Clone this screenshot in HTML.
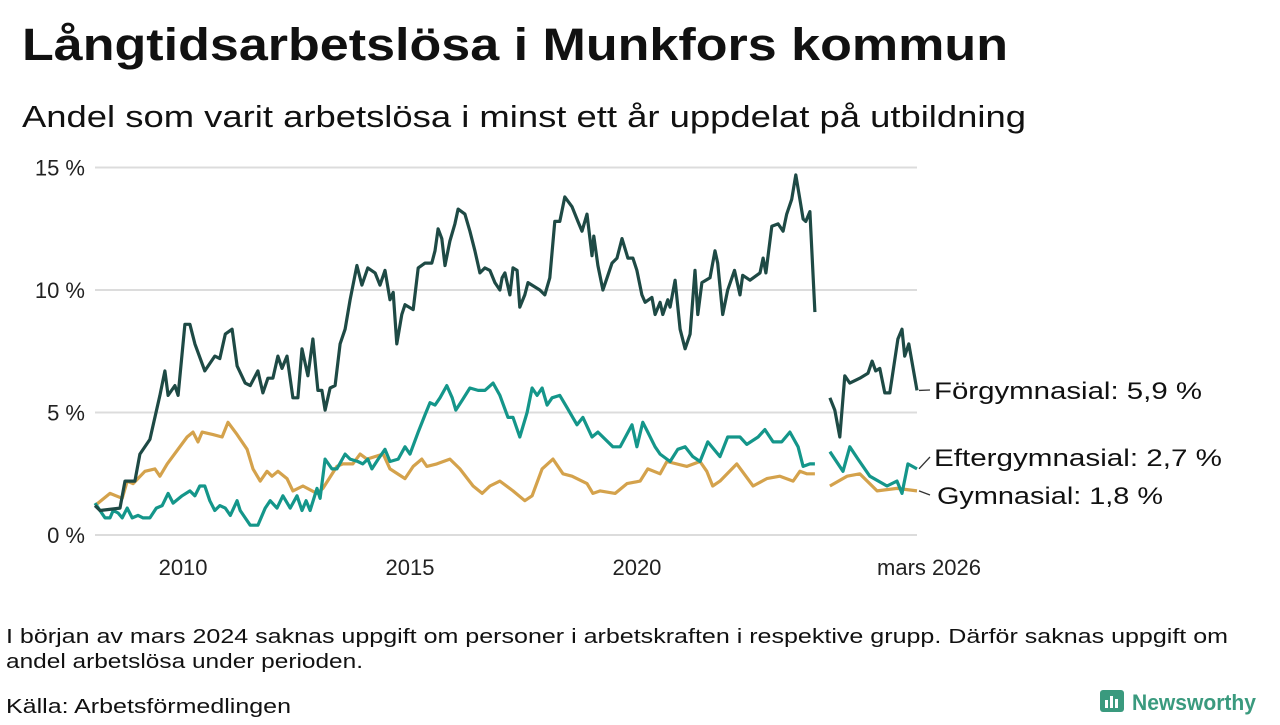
<!DOCTYPE html>
<html lang="sv"><head><meta charset="utf-8">
<style>
html,body{margin:0;padding:0;background:#fff;}
body{width:1280px;height:720px;overflow:hidden;font-family:"Liberation Sans","DejaVu Sans",sans-serif;}
svg text{font-family:"Liberation Sans","DejaVu Sans",sans-serif;}
</style></head>
<body>
<svg id="chart" width="1280" height="720" viewBox="0 0 1280 720" xmlns="http://www.w3.org/2000/svg">
<text x="22" y="60" font-size="45" font-weight="bold" fill="#111" textLength="986" lengthAdjust="spacingAndGlyphs">Långtidsarbetslösa i Munkfors kommun</text>
<text x="22" y="127" font-size="31" fill="#111" textLength="1004" lengthAdjust="spacingAndGlyphs">Andel som varit arbetslösa i minst ett år uppdelat på utbildning</text>
<g id="grid"></g>
<g id="series"></g>
<g id="labels"></g>
<text x="6" y="643" font-size="20" fill="#111" textLength="1222" lengthAdjust="spacingAndGlyphs">I början av mars 2024 saknas uppgift om personer i arbetskraften i respektive grupp. Därför saknas uppgift om</text>
<text x="6" y="668" font-size="20" fill="#111" textLength="357" lengthAdjust="spacingAndGlyphs">andel arbetslösa under perioden.</text>
<text x="6" y="713" font-size="20" fill="#111" textLength="285" lengthAdjust="spacingAndGlyphs">Källa: Arbetsförmedlingen</text>
<g>
<rect x="1100" y="690" width="24" height="22" rx="3" fill="#3a9a7e"/>
<rect x="1105" y="700" width="3" height="8" fill="#fff"/><rect x="1110" y="696" width="3" height="12" fill="#fff"/><rect x="1115" y="699" width="3" height="9" fill="#fff"/>
<text x="1132" y="710" font-size="22" font-weight="bold" fill="#3a9a7e" textLength="124" lengthAdjust="spacingAndGlyphs">Newsworthy</text>
</g>
</svg>
<script>
const yTicks=[0,5,10,15];
const yTickLabels=["0 %","5 %","10 %","15 %"];
const xTicks=[2010,2015,2020,2026.17];
const xTickLabels=["2010","2015","2020","mars 2026"];
const forgDates=[2008.06,2008.17,2008.61,2008.72,2008.94,2009.05,2009.27,2009.49,2009.60,2009.67,2009.82,2009.89,2010.04,2010.15,2010.26,2010.48,2010.70,2010.81,2010.93,2011.08,2011.19,2011.37,2011.48,2011.65,2011.76,2011.87,2011.98,2012.09,2012.18,2012.29,2012.42,2012.53,2012.62,2012.75,2012.86,2012.97,2013.06,2013.13,2013.24,2013.35,2013.46,2013.57,2013.68,2013.83,2013.94,2014.07,2014.23,2014.34,2014.45,2014.56,2014.63,2014.71,2014.82,2014.89,2015.07,2015.18,2015.33,2015.48,2015.55,2015.62,2015.70,2015.77,2015.88,2015.99,2016.06,2016.21,2016.32,2016.43,2016.54,2016.65,2016.76,2016.87,2016.98,2017.03,2017.09,2017.20,2017.27,2017.36,2017.42,2017.53,2017.60,2017.86,2017.97,2018.08,2018.19,2018.30,2018.41,2018.57,2018.70,2018.79,2018.90,2019.01,2019.05,2019.14,2019.25,2019.36,2019.45,2019.56,2019.67,2019.80,2019.91,2020.00,2020.11,2020.18,2020.33,2020.40,2020.51,2020.57,2020.68,2020.73,2020.84,2020.95,2021.06,2021.17,2021.28,2021.34,2021.43,2021.61,2021.72,2021.78,2021.89,2022.00,2022.15,2022.27,2022.33,2022.49,2022.71,2022.78,2022.84,2022.97,2023.11,2023.22,2023.30,2023.41,2023.50,2023.59,2023.66,2023.72,2023.81,2023.92,null,2024.25,2024.36,2024.47,2024.58,2024.69,2024.91,2025.09,2025.18,2025.26,2025.35,2025.46,2025.57,2025.75,2025.84,2025.90,2025.99,2026.17];
const forgValues=[1.2,1.0,1.1,2.2,2.2,3.3,3.9,5.7,6.7,5.7,6.1,5.7,8.6,8.6,7.8,6.7,7.3,7.2,8.2,8.4,6.9,6.2,6.1,6.7,5.8,6.4,6.4,7.3,6.8,7.3,5.6,5.6,7.6,6.5,8.0,5.9,5.9,5.1,6.0,6.1,7.8,8.4,9.6,11.0,10.2,10.9,10.7,10.2,10.8,9.6,9.9,7.8,9.0,9.4,9.2,10.9,11.1,11.1,11.6,12.5,12.1,11.0,12.0,12.7,13.3,13.1,12.4,11.6,10.7,10.9,10.8,10.3,10.0,10.5,10.7,9.8,10.9,10.8,9.3,9.8,10.3,10.0,9.8,10.5,12.8,12.8,13.8,13.4,12.8,12.4,13.1,11.4,12.2,11.0,10.0,10.6,11.1,11.3,12.1,11.3,11.3,10.8,9.8,9.5,9.7,9.0,9.5,9.0,9.6,9.3,10.4,8.4,7.6,8.2,10.8,9.0,10.3,10.5,11.6,11.1,9.0,10.0,10.8,9.8,10.6,10.4,10.7,11.3,10.7,12.6,12.7,12.4,13.1,13.7,14.7,13.7,12.9,12.8,13.2,9.1,null,5.6,5.1,4.0,6.5,6.2,6.4,6.6,7.1,6.7,6.8,5.8,5.8,8.0,8.4,7.3,7.8,5.9];
const eftDates=[2008.06,2008.17,2008.28,2008.39,2008.46,2008.57,2008.66,2008.77,2008.88,2009.01,2009.12,2009.27,2009.41,2009.54,2009.67,2009.78,2009.98,2010.15,2010.26,2010.37,2010.48,2010.59,2010.70,2010.81,2010.93,2011.04,2011.19,2011.26,2011.37,2011.48,2011.65,2011.81,2011.92,2012.07,2012.20,2012.36,2012.51,2012.62,2012.71,2012.80,2012.95,2013.02,2013.13,2013.28,2013.39,2013.57,2013.68,2013.85,2013.96,2014.07,2014.16,2014.30,2014.45,2014.56,2014.74,2014.89,2015.00,2015.18,2015.33,2015.44,2015.55,2015.66,2015.81,2015.93,2016.01,2016.15,2016.32,2016.50,2016.65,2016.83,2016.98,2017.16,2017.27,2017.42,2017.58,2017.69,2017.80,2017.91,2018.02,2018.13,2018.30,2018.46,2018.68,2018.81,2019.01,2019.14,2019.47,2019.63,2019.89,2020.00,2020.13,2020.24,2020.40,2020.51,2020.73,2020.90,2021.06,2021.23,2021.39,2021.56,2021.83,2022.00,2022.27,2022.42,2022.67,2022.82,2023.00,2023.19,2023.37,2023.55,2023.66,2023.81,2023.92,null,2024.25,2024.54,2024.69,2024.87,2025.13,2025.51,2025.73,2025.84,2025.97,2026.17];
const eftValues=[1.3,1.0,0.7,0.7,1.0,0.9,0.7,1.1,0.7,0.8,0.7,0.7,1.1,1.2,1.7,1.3,1.6,1.8,1.6,2.0,2.0,1.4,1.0,1.2,1.1,0.8,1.4,1.0,0.7,0.4,0.4,1.1,1.4,1.1,1.6,1.1,1.6,1.0,1.4,1.0,1.9,1.5,3.1,2.7,2.7,3.3,3.1,3.0,2.9,3.1,2.7,3.1,3.5,3.0,3.1,3.6,3.3,4.2,4.9,5.4,5.3,5.6,6.1,5.6,5.1,5.5,6.0,5.9,5.9,6.2,5.7,4.8,4.8,4.0,5.0,6.0,5.7,6.0,5.3,5.6,5.7,5.2,4.5,4.8,4.0,4.2,3.6,3.6,4.5,3.6,4.6,4.2,3.6,3.3,3.0,3.5,3.6,3.2,3.0,3.8,3.2,4.0,4.0,3.7,4.0,4.3,3.8,3.8,4.2,3.6,2.8,2.9,2.9,null,3.4,2.6,3.6,3.1,2.4,2.0,2.2,1.7,2.9,2.7];
const gymDates=[2008.06,2008.39,2008.66,2008.77,2008.90,2009.16,2009.38,2009.49,2009.65,2010.09,2010.22,2010.33,2010.42,2010.66,2010.86,2010.99,2011.19,2011.41,2011.54,2011.70,2011.85,2011.96,2012.09,2012.29,2012.42,2012.64,2012.95,2013.08,2013.39,2013.52,2013.74,2013.90,2014.05,2014.41,2014.56,2014.89,2015.07,2015.26,2015.37,2015.59,2015.88,2016.10,2016.39,2016.59,2016.76,2016.98,2017.27,2017.53,2017.69,2017.91,2018.15,2018.37,2018.57,2018.90,2019.03,2019.19,2019.52,2019.78,2020.07,2020.24,2020.51,2020.66,2021.10,2021.39,2021.54,2021.67,2021.83,2022.20,2022.56,2022.86,2023.15,2023.44,2023.59,2023.74,2023.92,null,2024.25,2024.63,2024.91,2025.29,2025.73,2026.17];
const gymValues=[1.2,1.7,1.5,2.2,2.1,2.6,2.7,2.4,2.9,4.0,4.2,3.8,4.2,4.1,4.0,4.6,4.1,3.5,2.7,2.2,2.6,2.4,2.6,2.3,1.8,2.0,1.7,1.9,2.8,2.9,2.9,3.3,3.1,3.3,2.7,2.3,2.8,3.1,2.8,2.9,3.1,2.7,2.0,1.7,2.0,2.2,1.8,1.4,1.6,2.7,3.1,2.5,2.4,2.1,1.7,1.8,1.7,2.1,2.2,2.7,2.5,3.0,2.8,3.0,2.6,2.0,2.2,2.9,2.0,2.3,2.4,2.2,2.6,2.5,2.5,null,2.0,2.4,2.5,1.8,1.9,1.8];

const NS="http://www.w3.org/2000/svg";
const X0=95,X1=917,T0=2008.06,T1=2026.17;
const xScale=t=>X0+(t-T0)/(T1-T0)*(X1-X0);
const yScale=v=>535-v*24.5;
function mk(tag,attrs,parent){const e=document.createElementNS(NS,tag);for(const k in attrs)e.setAttribute(k,attrs[k]);parent.appendChild(e);return e;}
const grid=document.getElementById('grid');
yTicks.forEach((v,i)=>{
  const l=mk('line',{x1:95,x2:917,y1:yScale(v),y2:yScale(v),stroke:'#dcdcdc','stroke-width':2},grid);
  
  
  const t=mk('text',{x:85,y:yScale(v)+8,'text-anchor':'end','font-size':22,fill:'#222'},grid);
  t.textContent=yTickLabels[i];
  
  
});
xTicks.forEach((v,i)=>{
  const last=i===xTicks.length-1;
  const t=mk('text',{x:last?xScale(v)+64:xScale(v),y:575,'text-anchor':last?'end':'middle','font-size':22,fill:'#222'},grid);
  t.textContent=xTickLabels[i];
  
  
});
const sg=document.getElementById('series');
function draw(dates,vals,color,name){
  let d='',pen=false;
  for(let i=0;i<dates.length;i++){
    if(dates[i]===null||vals[i]===null){pen=false;continue;}
    d+=(pen?'L':'M')+xScale(dates[i]).toFixed(1)+','+yScale(vals[i]).toFixed(1);pen=true;
  }
  const p=mk('path',{d:d,fill:'none',stroke:color,'stroke-width':3.2,'stroke-linejoin':'round'},sg);
  
  
}
draw(gymDates,gymValues,'#d4a24c','line-gymnasial');
draw(eftDates,eftValues,'#14968a','line-eftergymnasial');
draw(forgDates,forgValues,'#1e4a45','line-forgymnasial');
const lg=document.getElementById('labels');
const labelDefs=[[forgValues,"Förgymnasial: 5,9 %",391,268],[eftValues,"Eftergymnasial: 2,7 %",458,288],[gymValues,"Gymnasial: 1,8 %",496,226]];
labelDefs.forEach(([vals,txt,ly,w],i)=>{
  const vy=yScale(vals[vals.length-1]);
  const l=mk('line',{x1:919,y1:vy,x2:930,y2:ly-1,stroke:'#333','stroke-width':1.3},lg);
  
  
  const t=mk('text',{x:i===2?937:934,y:ly+8,'font-size':24,fill:'#111',textLength:w,lengthAdjust:'spacingAndGlyphs'},lg);
  t.textContent=txt;
  
  
});
</script>
</body></html>
